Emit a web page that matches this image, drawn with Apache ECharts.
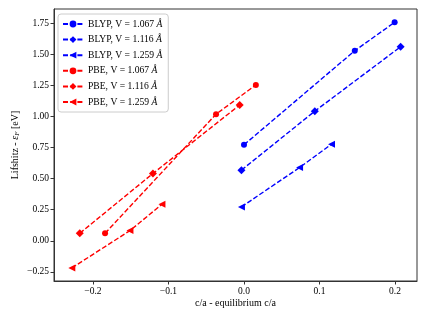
<!DOCTYPE html>
<html>
<head>
<meta charset="utf-8">
<script src="https://cdn.jsdelivr.net/npm/echarts@6/dist/echarts.min.js"></script>
<style>html,body{margin:0;padding:0;background:#fff}#c{width:427px;height:320px}</style>
</head>
<body>
<div id="c"></div>
<script>
// Data
const blyp1067X = [0.000, 0.1467, 0.1995];
const blyp1067Y = [0.773, 1.531, 1.760];
const blyp1116X = [-0.0034, 0.0938, 0.2074];
const blyp1116Y = [0.569, 1.044, 1.563];
const blyp1259X = [-0.0034, 0.0736, 0.1159];
const blyp1259Y = [0.273, 0.590, 0.778];
const pbe1067X = [-0.184, -0.037, 0.0157];
const pbe1067Y = [0.060, 1.020, 1.255];
const pbe1116X = [-0.2175, -0.1206, -0.0057];
const pbe1116Y = [0.060, 0.542, 1.094];
const pbe1259X = [-0.228, -0.151, -0.1087];
const pbe1259Y = [-0.219, 0.082, 0.294];

const xTicks = [-0.2, -0.1, 0.0, 0.1, 0.2];
const yTicks = [-0.25, 0.00, 0.25, 0.50, 0.75, 1.00, 1.25, 1.50, 1.75];

const seriesNames = ['BLYP, V = 1.067 ', 'BLYP, V = 1.116 ', 'BLYP, V = 1.259 ',
                     'PBE, V = 1.067 ', 'PBE, V = 1.116 ', 'PBE, V = 1.259 '];

function pairs(xs, ys) { return xs.map((x, i) => [x, ys[i]]); }
function fmt(v, d) { const s = v.toFixed(d); return v < 0 ? '\u2212' + s.slice(1) : s; }

const defs = [
  [blyp1067X, blyp1067Y, '#0000ff', 'circle', 6, 0],
  [blyp1116X, blyp1116Y, '#0000ff', 'diamond', 8, 0],
  [blyp1259X, blyp1259Y, '#0000ff', 'triangle', 7, 90],
  [pbe1067X, pbe1067Y, '#ff0000', 'circle', 6, 0],
  [pbe1116X, pbe1116Y, '#ff0000', 'diamond', 8, 0],
  [pbe1259X, pbe1259Y, '#ff0000', 'triangle', 7, 90]
];

const FONT = 'Liberation Serif';
const series = defs.map((d, i) => ({
  name: seriesNames[i],
  type: 'line',
  data: pairs(d[0], d[1]),
  symbol: d[3],
  symbolSize: d[4],
  symbolRotate: d[5],
  showAllSymbol: true,
  lineStyle: { color: d[2], width: 1.4, type: [5, 2.2] },
  itemStyle: { color: d[2] },
  emphasis: { disabled: true },
  animation: false,
  z: 3
}));

const chart = echarts.init(document.getElementById('c'), null, { renderer: 'canvas' });
chart.setOption({
  backgroundColor: '#fff',
  animation: false,
  grid: { left: 54, right: 10, top: 9, bottom: 39, outerBoundsMode: 'none', containLabel: false,
          show: true, borderColor: '#333', borderWidth: 1, backgroundColor: 'transparent' },
  legend: {
    orient: 'vertical',
    left: 58, top: 14,
    backgroundColor: 'rgba(255,255,255,0.8)',
    borderColor: '#ccc', borderWidth: 1, borderRadius: 3,
    padding: [5, 6, 5, 4],
    itemWidth: 20, itemHeight: 8.5, itemGap: 5.6,
    data: seriesNames,
    formatter: n => '{a|' + n + '}{b|\u00c5}',
    textStyle: {
      fontFamily: FONT, fontSize: 9.6, color: '#000',
      rich: {
        a: { fontFamily: FONT, fontSize: 9.6, color: '#000' },
        b: { fontFamily: FONT, fontSize: 9.6, fontStyle: 'italic', color: '#000' }
      }
    }
  },
  xAxis: {
    type: 'value', min: -0.2516, max: 0.2291,
    name: 'c/a - equilibrium c/a', nameLocation: 'middle', nameGap: 17, nameMoveOverlap: false,
    nameTextStyle: { fontFamily: FONT, fontSize: 10, color: '#000', verticalAlign: 'top' },
    splitLine: { show: false },
    axisLine: { show: true, onZero: false, lineStyle: { color: '#333', width: 1 } },
    axisTick: { show: true, length: 3.5, customValues: xTicks, lineStyle: { color: '#333' } },
    axisLabel: { customValues: xTicks, margin: 5, fontFamily: FONT, fontSize: 9.5, color: '#000', formatter: v => fmt(v, 1) }
  },
  yAxis: {
    type: 'value', min: -0.324, max: 1.867,
    name: '{n|Lifshitz - }{e|\u03b5}{s|F}{n| [eV]}', nameLocation: 'middle', nameGap: 33, nameRotate: 90, nameMoveOverlap: false,
    nameTextStyle: {
      fontFamily: FONT, fontSize: 10, color: '#000',
      rich: {
        n: { fontFamily: FONT, fontSize: 10, color: '#000' },
        e: { fontFamily: FONT, fontSize: 10, fontStyle: 'italic', color: '#000' },
        s: { fontFamily: FONT, fontSize: 7, fontStyle: 'italic', color: '#000', padding: [5, 0, 0, 0] }
      }
    },
    splitLine: { show: false },
    axisLine: { show: true, onZero: false, lineStyle: { color: '#333', width: 1 } },
    axisTick: { show: true, length: 3.5, customValues: yTicks, lineStyle: { color: '#333' } },
    axisLabel: { customValues: yTicks, margin: 5, fontFamily: FONT, fontSize: 9.5, color: '#000', formatter: v => fmt(v, 2) }
  },
  series: series
});
</script>
</body>
</html>
